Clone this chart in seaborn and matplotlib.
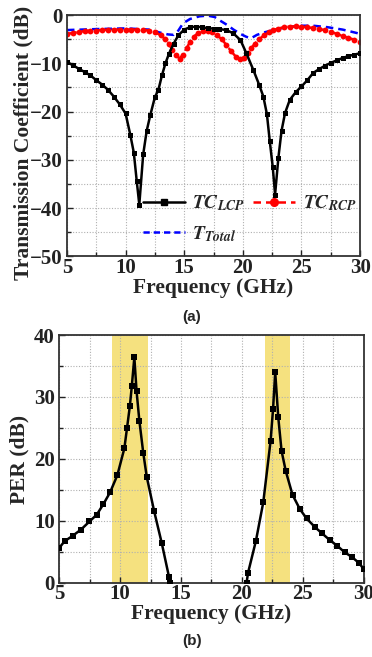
import matplotlib
matplotlib.use("Agg")
import matplotlib.pyplot as plt
from matplotlib.ticker import MultipleLocator
from matplotlib.lines import Line2D
import seaborn as sns

sns.set_theme(style="white")
plt.rcParams['font.family'] = ['Liberation Serif', 'DejaVu Serif']
plt.rcParams['font.weight'] = 'bold'
plt.rcParams['mathtext.fontset'] = 'stix'

# ---------------- data (a) ----------------
f_lcp = [5.0, 5.5, 6.0, 6.5, 7.0, 7.5, 8.0, 8.5, 9.0, 9.5, 10.0, 10.4, 10.7, 10.95, 11.17,
         11.5, 11.8, 12.1, 12.5, 12.8, 13.1, 13.4, 13.7, 14.1, 14.5, 15.0, 15.5, 16.0, 16.5,
         17.0, 17.5, 18.0, 18.6, 19.2, 19.8, 20.3, 20.9, 21.4, 21.75, 22.05, 22.3, 22.55,
         22.75, 23.03, 23.3, 23.6, 24.0, 24.5, 25.0, 25.5, 26.0, 26.5, 27.0, 27.5, 28.0,
         28.5, 29.0, 29.5, 30.0]
tc_lcp = [-9.7, -10.4, -11.1, -11.8, -12.5, -13.5, -14.4, -15.5, -16.9, -18.5, -20.4, -24.8,
          -28.5, -34.4, -39.3, -28.9, -24.0, -20.8, -17.0, -15.5, -12.5, -10.0, -8.0, -5.9,
          -4.2, -3.0, -2.5, -2.4, -2.5, -2.7, -2.8, -2.9, -3.1, -3.8, -5.2, -7.9, -11.4,
          -14.5, -16.9, -20.5, -26.2, -31.5, -37.2, -29.6, -24.0, -20.3, -17.6, -16.0,
          -14.8, -13.5, -12.0, -11.2, -10.5, -9.9, -9.4, -8.9, -8.5, -8.2, -7.9]

f_rcp = [5.0, 5.5, 6.0, 6.5, 7.0, 7.5, 8.0, 8.5, 9.0, 9.5, 10.0, 10.5, 11.0, 11.5, 12.0,
         12.5, 13.0, 13.4, 13.7, 14.0, 14.3, 14.6, 14.9, 15.2, 15.5, 15.8, 16.2, 16.6, 17.0,
         17.4, 17.8, 18.2, 18.6, 19.0, 19.4, 19.8, 20.1, 20.4, 20.7, 21.0, 21.4, 21.8,
         22.2, 22.6, 23.0, 23.5, 24.0, 24.5, 25.0, 25.5, 26.0, 26.5, 27.0, 27.5, 28.0,
         28.5, 29.0, 29.5, 30.0]
tc_rcp = [-3.9, -3.7, -3.5, -3.3, -3.2, -3.2, -3.1, -3.0, -3.0, -3.0, -3.0, -3.0, -3.0,
          -3.1, -3.2, -3.5, -4.2, -5.0, -6.0, -7.2, -8.3, -9.0, -8.2, -6.9, -5.5, -4.5,
          -3.7, -3.3, -3.2, -3.6, -4.2, -5.0, -6.2, -7.5, -8.6, -9.0, -8.8, -7.9, -6.9,
          -6.0, -5.0, -4.2, -3.6, -3.1, -2.8, -2.5, -2.4, -2.3, -2.4, -2.5, -2.7, -2.9,
          -3.1, -3.4, -3.9, -4.3, -4.7, -5.1, -5.6]

f_tot = [5.0, 7.5, 10.0, 12.0, 12.9, 13.6, 14.1, 14.5, 14.9, 15.5, 16.3, 17.0, 17.6,
         18.1, 18.7, 19.2, 19.8, 20.3, 20.7, 21.2, 21.8, 22.6, 23.5, 24.9, 26.0, 27.2,
         28.5, 29.7, 30.0]
tc_tot = [-3.1, -2.9, -2.75, -3.0, -3.6, -4.0, -4.1, -3.2, -1.7, -0.8, -0.25, -0.1,
          -0.4, -1.2, -2.1, -3.0, -3.9, -4.5, -4.8, -4.1, -3.6, -3.1, -2.6, -2.2, -2.2,
          -2.5, -3.0, -3.7, -3.9]

# ---------------- data (b) ----------------
f_per_l = [5.0, 5.44, 6.12, 6.80, 7.49, 8.09, 8.63, 9.18, 9.78, 10.35, 10.57, 10.8, 10.96,
           11.17, 11.35, 11.58, 11.9, 12.19, 12.79, 13.42, 14.02, 14.1]
per_l = [5.6, 6.7, 7.6, 8.6, 9.9, 11.0, 12.7, 14.6, 17.4, 21.7, 25.0, 28.5, 31.7, 36.4,
         31.0, 26.2, 21.0, 17.1, 11.6, 6.4, 0.9, 0.0]
f_per_r = [20.38, 20.5, 21.15, 21.75, 22.35, 22.55, 22.73, 22.98, 23.25, 23.6, 24.15,
           24.75, 25.3, 25.98, 26.56, 27.2, 27.8, 28.44, 29.0, 29.6, 30.0]
per_r = [0.0, 1.6, 6.8, 13.0, 22.9, 28.0, 34.0, 26.7, 21.3, 18.0, 14.2, 11.9, 10.4, 9.0,
         8.0, 6.9, 6.0, 4.9, 4.2, 3.2, 2.2]
bands = [(9.35, 12.25), (21.9, 23.95)]

legend_labels = [r'$\mathbfit{TC}_{\mathbfit{LCP}}$', r'$\mathbfit{T}_{\mathbfit{Total}}$',
                 r'$\mathbfit{TC}_{\mathbfit{RCP}}$']

fig = plt.figure(figsize=(3.72, 6.57), dpi=100)
ax1 = fig.add_axes([0.180, 0.610, 0.788, 0.367])
ax2 = fig.add_axes([0.159, 0.113, 0.819, 0.377])


def style_axes(ax):
    ax.grid(True, which='both', linestyle=(0, (1, 1.5)), color='#b0b0b0', linewidth=0.8)
    ax.set_axisbelow(True)
    for s in ax.spines.values():
        s.set_color('#333333')
        s.set_linewidth(1.3)
        s.set_visible(True)
    ax.tick_params(which='both', direction='in', bottom=True, left=True, top=False,
                   right=False, length=3, width=1.0, colors='#222222')
    ax.tick_params(which='major', length=4)
    ax.tick_params(axis='x', pad=1.0)
    ax.tick_params(axis='y', pad=3)
    for lab in ax.get_xticklabels() + ax.get_yticklabels():
        lab.set_fontsize(15)
        lab.set_fontweight('bold')
    ax.set_xlabel('')
    ax.set_ylabel('')

# ---------- (a) ----------
sns.lineplot(x=f_lcp, y=tc_lcp, ax=ax1, color='black', linewidth=1.8, marker='s',
             markersize=3.6, markeredgewidth=0, sort=False, zorder=3)
sns.lineplot(x=f_rcp, y=tc_rcp, ax=ax1, color='#ff0000', linewidth=1.8, marker='o',
             markersize=4.2, markeredgewidth=0, linestyle=(0, (4, 2)), sort=False, zorder=2)
sns.lineplot(x=f_tot, y=tc_tot, ax=ax1, color='#0000ff', linewidth=1.8,
             linestyle=(0, (3, 2)), sort=False, zorder=1)
ax1.set_xlim(5, 30)
ax1.set_ylim(-50, 0)
ax1.xaxis.set_major_locator(MultipleLocator(5))
ax1.xaxis.set_minor_locator(MultipleLocator(2.5))
ax1.yaxis.set_major_locator(MultipleLocator(10))
ax1.yaxis.set_minor_locator(MultipleLocator(5))
style_axes(ax1)

h_lcp = Line2D([], [], color='black', linewidth=1.8, marker='s', markersize=4.5)
h_rcp = Line2D([], [], color='#ff0000', linewidth=1.8, linestyle=(0, (3, 2)),
               marker='o', markersize=5.5)
h_tot = Line2D([], [], color='#0000ff', linewidth=1.8, linestyle=(0, (2.5, 1.6)))
ax1.legend([h_lcp, h_tot, h_rcp], legend_labels,
           ncol=2, frameon=False, loc='lower left', bbox_to_anchor=(0.232, 0.02),
           fontsize=14, handlelength=2.15, handletextpad=0.4, columnspacing=0.4,
           labelspacing=0.55, borderaxespad=0, numpoints=1)

# ---------- (b) ----------
for lo, hi in bands:
    ax2.axvspan(lo, hi, color='#f5e17f', zorder=0.5, linewidth=0)
sns.lineplot(x=f_per_l, y=per_l, ax=ax2, color='black', linewidth=1.8, marker='s',
             markersize=4.3, markeredgewidth=0, sort=False, zorder=3)
sns.lineplot(x=f_per_r, y=per_r, ax=ax2, color='black', linewidth=1.8, marker='s',
             markersize=4.3, markeredgewidth=0, sort=False, zorder=3)
ax2.set_xlim(5, 30)
ax2.set_ylim(0, 40)
ax2.xaxis.set_major_locator(MultipleLocator(5))
ax2.xaxis.set_minor_locator(MultipleLocator(2.5))
ax2.yaxis.set_major_locator(MultipleLocator(10))
ax2.yaxis.set_minor_locator(MultipleLocator(5))
style_axes(ax2)

# labels
lab_kw = dict(fontsize=15.5, fontweight='bold', family='Liberation Serif')
fig.text(0.574, 0.562, 'Frequency (GHz)', ha='center', va='center', **lab_kw)
fig.text(0.062, 0.782, 'Transmission Coefficient (dB)', ha='center', va='center',
         rotation=90, **lab_kw)
fig.text(0.568, 0.065, 'Frequency (GHz)', ha='center', va='center', **lab_kw)
fig.text(0.052, 0.301, 'PER (dB)', ha='center', va='center', rotation=90, **lab_kw)
fig.text(0.516, 0.518, '(a)', ha='center', va='center', fontsize=11, fontweight='bold',
         family='Liberation Sans')
fig.text(0.516, 0.024, '(b)', ha='center', va='center', fontsize=11, fontweight='bold',
         family='Liberation Sans')

fig.savefig('out.png', dpi=100, facecolor='white')
